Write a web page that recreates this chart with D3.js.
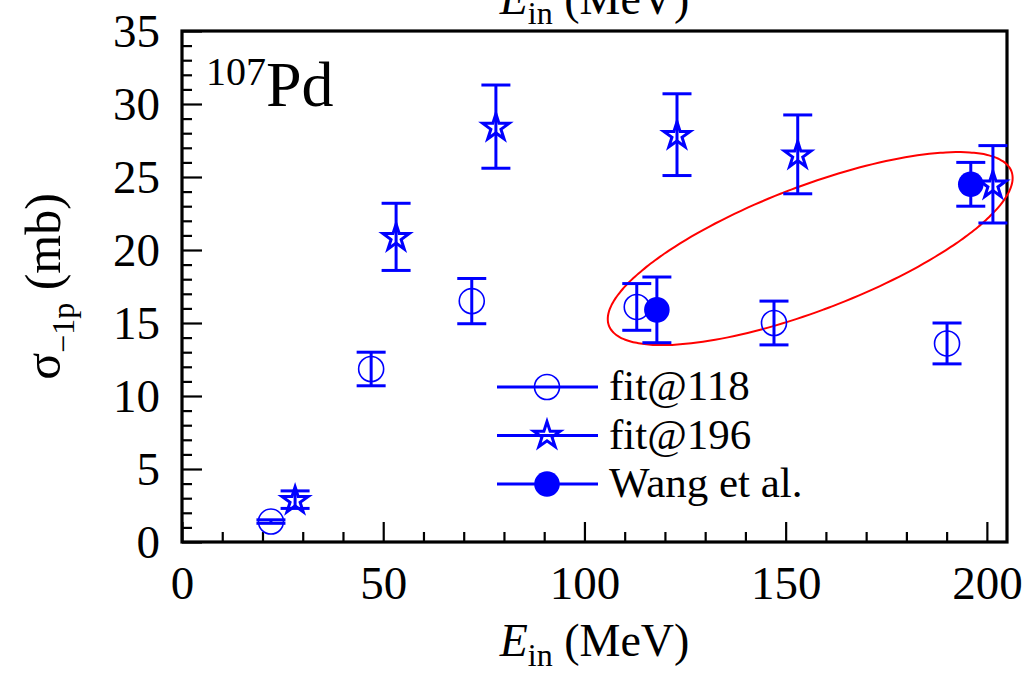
<!DOCTYPE html>
<html><head><meta charset="utf-8">
<script src="https://cdn.jsdelivr.net/npm/d3@7"></script>
<style>
html,body{margin:0;padding:0;background:#fff;}
svg{display:block;font-family:"Liberation Serif","Times New Roman",serif;}
</style></head>
<body>
<svg id="chart" width="1027" height="676"></svg>
<script>
// ---- data (E_in in MeV, sigma in mb, symmetric error in mb) ----
const fit118E   = [22.1, 47.0, 72.0, 113.0, 147.1, 190.1];
const fit118Sig = [1.4, 11.85, 16.5, 16.1, 15.0, 13.6];
const fit118Err = [0.12, 1.15, 1.55, 1.6, 1.5, 1.4];

const fit196E   = [28.1, 53.2, 78.0, 123.0, 153.0, 201.5];
const fit196Sig = [2.9, 20.9, 28.45, 27.9, 26.55, 24.5];
const fit196Err = [0.6, 2.3, 2.85, 2.8, 2.7, 2.65];

const wangE   = [118.0, 196.0];
const wangSig = [15.9, 24.5];
const wangErr = [2.25, 1.5];

const xTicks = [0, 50, 100, 150, 200];
const yTicks = [0, 5, 10, 15, 20, 25, 30, 35];
const legendLabels = ["fit@118", "fit@196", "Wang et al."];

// red ellipse annotation (data units): centre, x half-extent, y components
const ellipseCenter = [156.1, 20.1];
const ellipseRx = 50.3, ellipseCy = 4.83, ellipseSy = 4.51;

// ---- layout ----
const svg = d3.select("#chart");
const L = 182, R = 1007, T = 31, B = 542;
const x = d3.scaleLinear().domain([0, 205]).range([L, R]);
const y = d3.scaleLinear().domain([0, 35]).range([B, T]);
const blue = "#0000ff";

// axes ticks (inward)
const xMinor = d3.range(0, 206, 10).filter(v => v % 50 !== 0);
const yMinor = d3.range(0, 35.01, 1).filter(v => v % 5 !== 0);

const gxMinor = svg.append("g").attr("transform", `translate(0,${B})`)
  .call(d3.axisBottom(x).tickValues(xMinor).tickSize(-10).tickFormat(""));
const gx = svg.append("g").attr("transform", `translate(0,${B})`)
  .call(d3.axisBottom(x).tickValues(xTicks).tickSize(-20).tickPadding(24).tickFormat(d3.format("d")));
const gyMinor = svg.append("g").attr("transform", `translate(${L},0)`)
  .call(d3.axisLeft(y).tickValues(yMinor).tickSize(-10).tickFormat(""));
const gy = svg.append("g").attr("transform", `translate(${L},0)`)
  .call(d3.axisLeft(y).tickValues(yTicks).tickSize(-20).tickPadding(22).tickFormat(d3.format("d")));

[gxMinor, gx, gyMinor, gy].forEach(g => {
  g.attr("font-family", "Liberation Serif");
  g.select(".domain").remove();
  g.selectAll(".tick line").attr("stroke", "#000").attr("stroke-width", 2.2);
  g.selectAll(".tick text").attr("font-size", 47).attr("fill", "#000");
});
gy.selectAll(".tick text").attr("dy", "0.34em");

// frame
svg.append("rect").attr("x", L).attr("y", T).attr("width", R - L).attr("height", B - T)
  .attr("fill", "none").attr("stroke", "#000").attr("stroke-width", 3.2);

// axis titles
function eLabel(yPos) {
  const t = svg.append("text").attr("x", (L + R) / 2).attr("y", yPos).attr("text-anchor", "middle")
    .attr("font-size", 46).attr("fill", "#000");
  t.append("tspan").attr("font-style", "italic").text("E");
  t.append("tspan").attr("font-size", 32).attr("dy", 10).text("in");
  t.append("tspan").attr("dy", -10).text(" (MeV)");
}
eLabel(656);
eLabel(14);

const yl = svg.append("text").attr("transform", `translate(60,${(T + B) / 2}) rotate(-90)`)
  .attr("text-anchor", "middle").attr("font-size", 50).attr("fill", "#000");
yl.append("tspan").text("σ");
yl.append("tspan").attr("font-size", 32).attr("dy", 14).text("−1p");
yl.append("tspan").attr("dy", -14).text(" (mb)");

// nucleus label
const nl = svg.append("text").attr("x", 206).attr("y", 106).attr("font-size", 64).attr("fill", "#000");
nl.append("tspan").attr("font-size", 40).attr("dy", -21).text("107");
nl.append("tspan").attr("dy", 21).text("Pd");

// ellipse
const ts = d3.range(0, 361, 2).map(d => d * Math.PI / 180);
svg.append("path")
  .datum(ts)
  .attr("d", d3.line()
    .x(t => x(ellipseCenter[0] + ellipseRx * Math.cos(t)))
    .y(t => y(ellipseCenter[1] + ellipseCy * Math.cos(t) + ellipseSy * Math.sin(t)))
    .curve(d3.curveCardinalClosed))
  .attr("fill", "none").attr("stroke", "#ff0000").attr("stroke-width", 2);

// series drawing
const capW = 14.5;
function errorBars(E, S, Er) {
  const g = svg.append("g").attr("stroke", blue).attr("stroke-width", 3).attr("fill", "none");
  E.forEach((e, i) => {
    const cx = x(e), y1 = y(S[i] + Er[i]), y0 = y(S[i] - Er[i]);
    g.append("line").attr("x1", cx).attr("x2", cx).attr("y1", y1).attr("y2", y0);
    g.append("line").attr("x1", cx - capW).attr("x2", cx + capW).attr("y1", y1).attr("y2", y1);
    g.append("line").attr("x1", cx - capW).attr("x2", cx + capW).attr("y1", y0).attr("y2", y0);
  });
}
const starPath = d3.symbol().type(d3.symbolStar).size(215)();
function openCircle(g, cx, cy) {
  g.append("circle").attr("cx", cx).attr("cy", cy).attr("r", 12.5)
    .attr("fill", "none").attr("stroke", blue).attr("stroke-width", 1.6);
}
function star(g, cx, cy) {
  g.append("path").attr("d", starPath).attr("transform", `translate(${cx},${cy + 1})`)
    .attr("fill", "none").attr("stroke", blue).attr("stroke-width", 3).attr("stroke-linejoin", "miter");
}
function filled(g, cx, cy) {
  g.append("circle").attr("cx", cx).attr("cy", cy).attr("r", 12.8).attr("fill", blue);
}

const gm = svg.append("g");
fit118E.forEach((e, i) => openCircle(gm, x(e), y(fit118Sig[i])));
errorBars(fit118E, fit118Sig, fit118Err);
errorBars(fit196E, fit196Sig, fit196Err);
fit196E.forEach((e, i) => star(svg, x(e), y(fit196Sig[i])));
errorBars(wangE, wangSig, wangErr);
wangE.forEach((e, i) => filled(svg, x(e), y(wangSig[i])));

// legend
const markers = [openCircle, star, filled];
const lg = svg.append("g");
legendLabels.forEach((lab, i) => {
  const ly = 387 + i * 48.5;
  lg.append("line").attr("x1", 497).attr("x2", 598).attr("y1", ly).attr("y2", ly)
    .attr("stroke", blue).attr("stroke-width", 3);
  markers[i](lg, 547, ly - (i === 1 ? 1 : 0));
  lg.append("text").attr("x", 609).attr("y", ly + 13).attr("font-size", 43).attr("fill", "#000").text(lab);
});
</script>
</body></html>
